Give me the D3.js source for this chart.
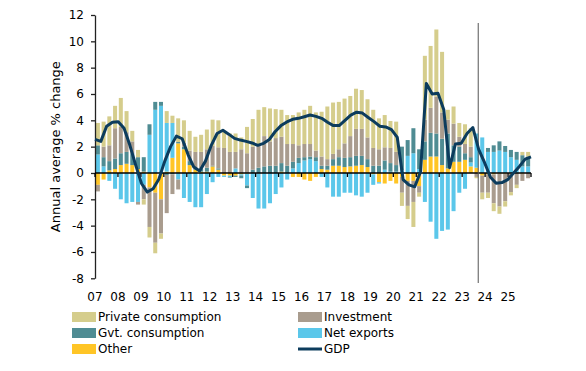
<!DOCTYPE html>
<meta charset="utf-8">
<style>
  body { margin: 0; background: #fff; }
  text { font-family: "DejaVu Sans", Verdana, sans-serif; fill: #000; }
</style>
<svg width="586" height="371"></svg>
<script src="https://d3js.org/d3.v7.min.js"></script>
<script>
// year tick labels, one per year (4 quarters each)
var yearLabels = ["07","08","09","10","11","12","13","14","15","16","17","18","19","20","21","22","23","24","25"]

// contributions, pp, one value per quarter
var privCons = [1.7,1.9,2.2,1.7, 2.2,1.6,0.8,0.55, -0.4,-0.8,-0.8,-0.4, 0.9,0.55,1.8,1.7,
  1.5,1.15,1.3,1.5, 2.0,2.05,1.3,1.4, 1.4,0.9,2.0,2.1, 2.6,2.2,2.5,2.2,
  2.05,2.2,2.2,2.5, 2.6,2.9,2.9,3.4, 4.0,3.9,3.6,3.4, 3.05,3.05,2.95,2.9,
  2.9,2.35,2.45,2.05, 2.3,-1.0,-1.0,-1.9, -0.3,4.85,4.7,5.1, 4.6,0.75,1.3,1.05,
  1.5,1.4,-0.1,-0.5, -0.4,-0.6,-0.55,-0.4, -0.25,-0.25,0.25,0.35]
var investment = [-0.5,0.8,1.2,2.3, 2.0,1.5,0.9,-0.2, -1.1,-3.0,-3.8,-2.6, -2.9,-1.5,-0.75,0.3,
  0.8,1.3,1.3,1.4, 1.5,1.6,1.9,1.6, 1.25,1.8,1.5,1.75, 1.8,2.3,1.85,2.1,
  2.0,1.65,1.35,0.95, 1.0,0.95,0.5,0.7, 0.5,0.4,0.6,1.1, 1.6,2.05,2.05,1.65,
  1.35,1.25,1.0,1.15, 1.0,-1.2,-1.9,-1.6, -0.5,1.65,1.9,2.8, 2.0,1.05,1.65,0.75,
  0.7,0.8,-0.3,-1.3, -1.4,-2.2,-2.5,-2.1, -1.4,-0.9,-0.55,-0.4]
var govCons = [0.7,0.7,0.7,0.8, 0.9,0.9,0.9,0.9, 1.1,0.8,0.6,0.3, -0.15,-0.1,0.1,0.2,
  0.3,0.05,0.2,0.3, 0.05,0.1,0.0,-0.05, -0.1,-0.2,-0.2,0.25, 0.4,0.5,0.55,0.55,
  0.65,0.55,0.5,0.4, 0.25,0.2,0.3,0.25, 0.3,0.5,0.65,0.7, 0.7,0.75,0.7,0.6,
  0.55,0.55,0.7,0.65, 0.5,1.8,1.2,1.9, 1.5,1.4,1.8,1.75, 2.0,2.65,1.25,1.15,
  0.5,0.4,0.0,0.0, 0.3,0.5,0.7,0.45, 0.55,0.6,0.85,0.75]
var netExports = [1.4,0.5,-0.6,-1.2, -2.0,-2.3,-2.2,-2.2, -0.9,2.9,4.8,5.1, 3.7,2.65,-0.5,-1.9,
  -2.2,-2.6,-2.6,-1.6, -0.7,-0.3,-0.1,-0.1, 0.35,-0.1,-0.9,-1.9, -2.7,-2.7,-2.3,-1.6,
  -1.1,-0.5,0.35,0.75, 0.95,1.05,0.9,-0.3, -1.1,-1.8,-1.8,-1.5, -1.5,-1.7,-1.8,-1.5,
  -0.8,-0.1,0.25,0.1, 0.1,0.2,1.3,1.5, 0.3,-2.2,-3.7,-5.0, -4.4,-4.3,-2.9,-1.5,
  -1.2,0.3,2.6,2.7, 1.6,1.6,1.7,1.6, 1.2,1.0,0.5,0.5]
var other = [-0.9,-0.5,0.2,0.3, 0.6,0.7,0.6,0.3, 0.1,-1.1,-1.5,-2.0, 0.1,1.15,2.25,1.8,
  0.6,0.25,0.1,0.1, 0.5,0.25,-0.2,-0.2, -0.2,-0.1,-0.05,0.0, 0.0,0.0,0.0,0.0,
  0.1,0.0,-0.3,-0.3, -0.5,-0.6,-0.3,0.3, 0.25,0.55,0.55,0.45, 0.5,0.55,0.6,0.45,
  -0.1,-0.7,-0.8,-0.6, -0.8,-0.3,-0.6,-0.6, -1.0,1.0,1.25,1.25, 0.6,0.35,0.85,0.85,
  1.0,0.5,0.4,-0.2, -0.1,-0.1,-0.05,-0.05, -0.05,0.0,-0.05,0.0]
var gdp = [2.55,2.4,3.55,3.85, 3.9,3.4,2.1,0.6, -0.8,-1.45,-1.2,-0.45, 0.9,2.0,2.8,2.6,
  1.4,0.45,0.15,0.9, 2.1,3.0,3.25,2.95, 2.63,2.5,2.4,2.28, 2.1,2.25,2.55,3.15,
  3.6,3.88,4.08,4.15, 4.27,4.4,4.3,4.15, 3.85,3.6,3.6,4.0, 4.4,4.62,4.55,4.22,
  3.9,3.55,3.5,3.3, 2.7,-0.5,-0.9,-1.05, 0.1,6.8,6.0,6.05, 4.8,0.4,2.2,2.25,
  3.0,3.45,1.8,0.8, -0.3,-0.78,-0.73,-0.5, 0.0,0.5,1.05,1.22]

var forecastStart = 2023.7

var series = [
  { key: 'other', label: 'Other', color: '#FFC526', values: other },
  { key: 'netExports', label: 'Net exports', color: '#5BC7EA', values: netExports },
  { key: 'govCons', label: 'Gvt. consumption', color: '#4F8C93', values: govCons },
  { key: 'investment', label: 'Investment', color: '#A99C8E', values: investment },
  { key: 'privCons', label: 'Private consumption', color: '#D5CD8C', values: privCons }
]
var gdpColor = '#0C3C5D'

var quarters = []
yearLabels.forEach(function (yl) {
  ['Q1', 'Q2', 'Q3', 'Q4'].forEach(function (q) { quarters.push(yl + q) })
})

var rows = quarters.map(function (q, i) {
  var row = { q: q }
  series.forEach(function (s) { row[s.key] = s.values[i] })
  return row
})

var svg = d3.select('svg')
var plotLeft = 95, plotRight = 531, plotTop = 15, plotBottom = 278.3

var x = d3.scaleBand().domain(quarters).range([plotLeft, plotRight]).paddingInner(0.3).paddingOuter(0.15)
var lineX = d3.scaleLinear().domain([0, quarters.length - 1]).range([plotLeft, plotRight])
var yearX = d3.scaleLinear().domain([2007, 2007 + yearLabels.length]).range([plotLeft, plotRight])
var y = d3.scaleLinear().domain([-8, 12]).range([plotBottom, plotTop])

var stack = d3.stack()
  .keys(series.map(function (s) { return s.key }))
  .offset(d3.stackOffsetDiverging)
var stacked = stack(rows)

// bars
var barGroup = svg.append('g').attr('class', 'bars')
stacked.forEach(function (layer, k) {
  barGroup.append('g')
    .attr('fill', series[k].color)
    .selectAll('rect')
    .data(layer)
    .enter().append('rect')
    .attr('x', function (d) { return x(d.data.q) })
    .attr('width', x.bandwidth())
    .attr('y', function (d) { return y(Math.max(d[0], d[1])) })
    .attr('height', function (d) { return Math.abs(y(d[0]) - y(d[1])) })
})

// y axis
var yAxis = d3.axisLeft(y)
  .tickValues(d3.range(-8, 13, 2))
  .tickSize(4)
  .tickSizeOuter(0)
  .tickPadding(7)
  .tickFormat(function (d) { return String(d) })
var yg = svg.append('g').attr('transform', 'translate(' + plotLeft + ',0)').call(yAxis)
yg.selectAll('path, line').attr('stroke', '#222').attr('stroke-width', 1.3)
yg.selectAll('text').attr('font-size', 12).attr('font-family', '"DejaVu Sans", Verdana, sans-serif').attr('fill', '#000')

svg.append('text')
  .attr('transform', 'translate(60,' + ((plotTop + plotBottom) / 2) + ') rotate(-90)')
  .attr('text-anchor', 'middle')
  .attr('font-size', 13)
  .text('Annual average % change')

// zero line with year ticks
svg.append('line')
  .attr('x1', plotLeft).attr('x2', plotRight)
  .attr('y1', y(0)).attr('y2', y(0))
  .attr('stroke', '#000').attr('stroke-width', 1.5)

svg.append('g').selectAll('line')
  .data(d3.range(0, yearLabels.length + 1))
  .enter().append('line')
  .attr('x1', function (k) { return yearX(2007 + k) })
  .attr('x2', function (k) { return yearX(2007 + k) })
  .attr('y1', y(0)).attr('y2', y(0) + 4)
  .attr('stroke', '#000').attr('stroke-width', 1.3)

svg.append('g').selectAll('text')
  .data(yearLabels)
  .enter().append('text')
  .attr('x', function (d, k) { return yearX(2007 + k) })
  .attr('y', 301)
  .attr('text-anchor', 'middle')
  .attr('font-size', 12)
  .text(function (d) { return d })

// forecast marker
svg.append('line')
  .attr('x1', yearX(forecastStart)).attr('x2', yearX(forecastStart))
  .attr('y1', 23).attr('y2', 283)
  .attr('stroke', '#555').attr('stroke-width', 1)

// GDP line
var line = d3.line()
  .x(function (d, i) { return lineX(i) })
  .y(function (d) { return y(d) })
svg.append('path')
  .datum(gdp)
  .attr('fill', 'none')
  .attr('stroke', gdpColor)
  .attr('stroke-width', 3)
  .attr('stroke-linejoin', 'round')
  .attr('d', line)

// legend
var legendItems = [
  { label: 'Private consumption', color: '#D5CD8C', col: 0, row: 0 },
  { label: 'Investment', color: '#A99C8E', col: 1, row: 0 },
  { label: 'Gvt. consumption', color: '#4F8C93', col: 0, row: 1 },
  { label: 'Net exports', color: '#5BC7EA', col: 1, row: 1 },
  { label: 'Other', color: '#FFC526', col: 0, row: 2 },
  { label: 'GDP', color: gdpColor, col: 1, row: 2, line: true }
]
var legendCols = [72, 298], legendRows = [317, 333, 349]
var lg = svg.append('g').selectAll('g')
  .data(legendItems)
  .enter().append('g')
  .attr('transform', function (d) { return 'translate(' + legendCols[d.col] + ',' + legendRows[d.row] + ')' })
lg.each(function (d) {
  var g = d3.select(this)
  if (d.line) {
    g.append('line').attr('x1', 0).attr('x2', 24).attr('y1', 0).attr('y2', 0)
      .attr('stroke', d.color).attr('stroke-width', 3)
  } else {
    g.append('rect').attr('x', 0).attr('y', -5).attr('width', 24).attr('height', 10).attr('fill', d.color)
  }
  g.append('text').attr('x', 26).attr('y', 0).attr('dy', '0.36em').attr('font-size', 12).text(d.label)
})
</script>
